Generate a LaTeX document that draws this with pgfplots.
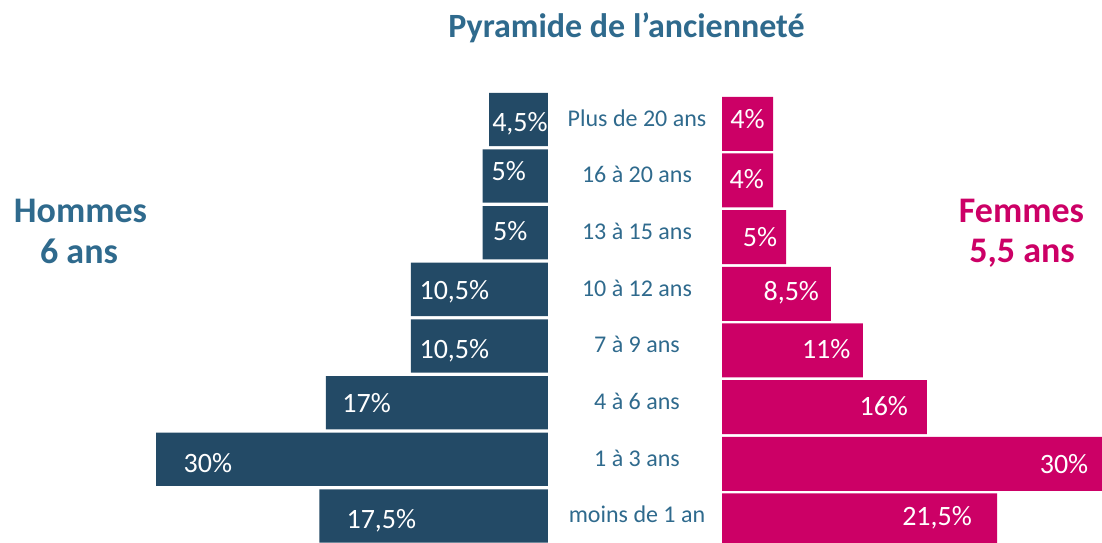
\documentclass[border=0pt]{standalone}
\usepackage{pgfplots}
\pgfplotsset{compat=1.18}
\usepackage{pgfplotstable}
\usepackage{fontspec}
\setmainfont{Carlito}
\definecolor{navy}{HTML}{234A66}
\definecolor{mag}{HTML}{CC0066}
\definecolor{lblue}{HTML}{2F6A8D}

% y: 7 = Plus de 20 ans ... 0 = moins de 1 an
\pgfplotstableread{
y v
7 4.5
6 5
5 5
4 10.5
3 10.5
2 17
1 30
0 17.5
}\men
\pgfplotstableread{
lx ly lab
2.14 6.781 4,5
3.00 5.929 5
2.89 4.871 5
7.16 3.824 10,5
7.16 2.783 10,5
13.88 1.829 17
26.03 0.771 30
12.75 -0.217 17,5
}\menlab
\pgfplotstableread{
y v
7 4
6 4
5 5
4 8.5
3 11
2 16
1 30
0 21.5
}\women
\pgfplotstableread{
lx ly lab
1.99 6.919 4
1.93 5.859 4
2.97 4.829 5
5.41 3.876 8,5
8.14 2.859 11
12.64 1.859 16
26.72 0.831 30
16.80 -0.083 21,5
}\womenlab

\begin{document}
\begin{tikzpicture}
\path[use as bounding box] (0,0) rectangle (1102pt,542pt);

\begin{axis}[
  at={(352pt,224.3pt)}, anchor=center,
  scale only axis, width=391.8pt, height=453.3pt,
  xmin=0, xmax=30, ymin=-0.5, ymax=7.5,
  x dir=reverse, hide axis, clip=false,
]
\addplot[xbar, bar width=0.94, fill=navy, draw=none] table[x=v, y=y] {\men};
\addplot[draw=none, mark=none,
  nodes near coords={\pgfplotspointmeta\%},
  point meta=explicit symbolic,
  every node near coord/.append style={anchor=base, text=white, inner sep=0pt,
    font=\fontsize{28}{30}\selectfont}]
  table[x=lx, y=ly, meta=lab] {\menlab};
\end{axis}

\begin{axis}[
  at={(914pt,219.9pt)}, anchor=center,
  scale only axis, width=384pt, height=453.3pt,
  xmin=0, xmax=30, ymin=-0.5, ymax=7.5,
  clip=false,
  axis line style={draw=none},
  xtick=\empty,
  ytick={0,1,2,3,4,5,6,7},
  yticklabels={moins de 1 an, 1 à 3 ans, 4 à 6 ans, 7 à 9 ans, 10 à 12 ans, 13 à 15 ans, 16 à 20 ans, Plus de 20 ans},
  major tick length=0pt,
  tick style={draw=none},
  yticklabel style={anchor=base, xshift=-85pt, yshift=-2.3pt, inner sep=0pt,
    text=lblue, font=\fontsize{24}{26}\selectfont},
]
\addplot[xbar, bar width=0.953, fill=mag, draw=none] table[x=v, y=y] {\women};
\addplot[draw=none, mark=none,
  nodes near coords={\pgfplotspointmeta\%},
  point meta=explicit symbolic,
  every node near coord/.append style={anchor=base, text=white, inner sep=0pt,
    font=\fontsize{28}{30}\selectfont}]
  table[x=lx, y=ly, meta=lab] {\womenlab};
\end{axis}

\node[anchor=base, text=lblue, font=\bfseries\fontsize{34}{36}\selectfont, inner sep=0pt]
  at (626.5pt,504.7pt) {Pyramide de l’ancienneté};
\node[anchor=base, text=lblue, font=\bfseries\fontsize{36}{38}\selectfont, inner sep=0pt]
  at (80.5pt,319.3pt) {Hommes};
\node[anchor=base, text=lblue, font=\bfseries\fontsize{36}{38}\selectfont, inner sep=0pt]
  at (79pt,278.7pt) {6 ans};
\node[anchor=base, text=mag, font=\bfseries\fontsize{36}{38}\selectfont, inner sep=0pt]
  at (1021.5pt,319.3pt) {Femmes};
\node[anchor=base, text=mag, font=\bfseries\fontsize{36}{38}\selectfont, inner sep=0pt]
  at (1022pt,279.3pt) {5,5 ans};
\end{tikzpicture}
\end{document}
